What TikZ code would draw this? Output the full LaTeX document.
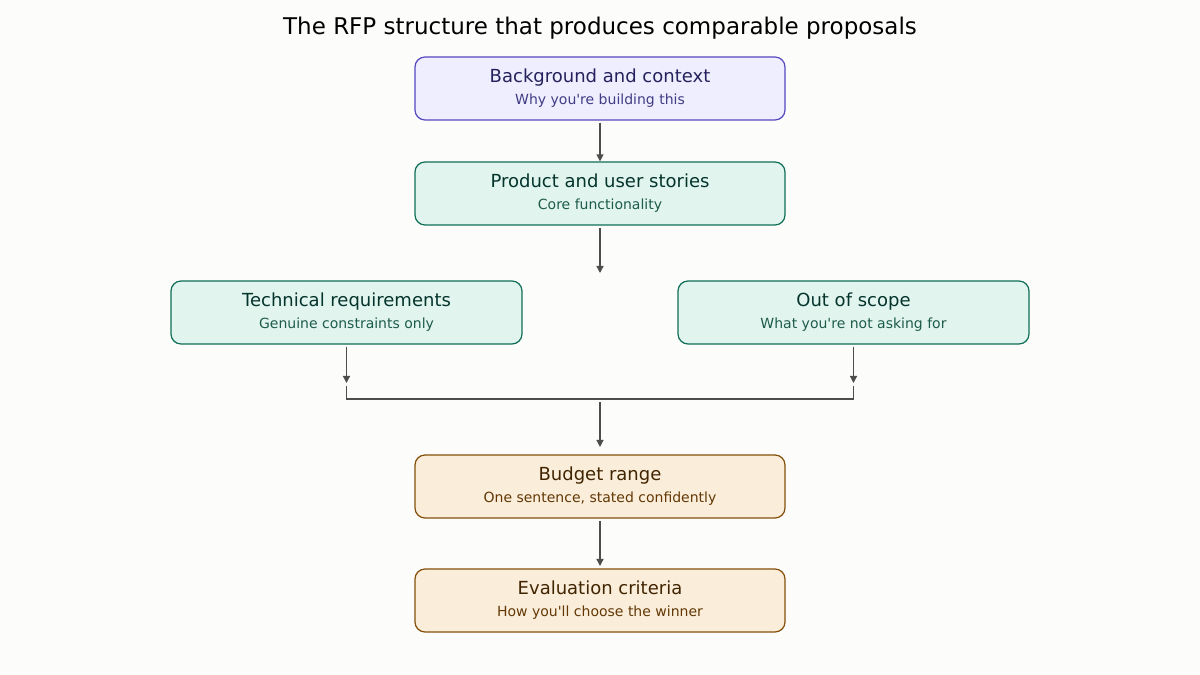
\documentclass[tikz,border=0pt]{standalone}
\usepackage{fontspec}
\setmainfont{DejaVu Sans}
\usetikzlibrary{arrows.meta}
\definecolor{bgc}{HTML}{FCFCFA}
\definecolor{purfill}{HTML}{EEEEFE}
\definecolor{purline}{HTML}{5548C0}
\definecolor{purtext}{HTML}{26215C}
\definecolor{pursub}{HTML}{433C85}
\definecolor{grnfill}{HTML}{E1F5EE}
\definecolor{grnline}{HTML}{0F6E56}
\definecolor{grntext}{HTML}{04342C}
\definecolor{grnsub}{HTML}{1D5B4A}
\definecolor{orafill}{HTML}{FAEEDA}
\definecolor{oraline}{HTML}{854F0B}
\definecolor{oratext}{HTML}{412402}
\definecolor{orasub}{HTML}{633806}
\definecolor{arrc}{HTML}{4D4D4D}
\newcommand{\boxtext}[3]{{\fontsize{18}{22}\selectfont #1}\\{\fontsize{14}{17}\selectfont\color{#3}#2}}
\begin{document}
\begin{tikzpicture}[x=1pt,y=1pt,
  step node/.style={rectangle,rounded corners=10pt,line width=1.2pt,
    minimum width=370pt,minimum height=63pt,align=center,inner sep=0pt,
    font=\fontsize{14}{22}\selectfont},
  purple node/.style={step node,fill=purfill,draw=purline,text=purtext},
  green node/.style={step node,fill=grnfill,draw=grnline,text=grntext,minimum width=351pt},
  orange node/.style={step node,fill=orafill,draw=oraline,text=oratext},
  flow/.style={draw=arrc,line width=1.3pt,-{Triangle[length=7pt,width=7pt]}}]

  \fill[bgc] (0,0) rectangle (1200,675);
  \useasboundingbox (0,0) rectangle (1200,675);

  \node (title) at (600,647) {\fontsize{23}{28}\selectfont The RFP structure that produces comparable proposals};

  \node[purple node] (bg) at (600,586.5) {\boxtext{Background and context}{Why you\textquotesingle re building this}{pursub}};
  \node[green node,minimum width=370pt] (prod) at (600,481.5) {\boxtext{Product and user stories}{Core functionality}{grnsub}};
  \node[green node] (tech) at (346.5,362.5) {\boxtext{Technical requirements}{Genuine constraints only}{grnsub}};
  \node[green node] (scope) at (853.5,362.5) {\boxtext{Out of scope}{What you\textquotesingle re not asking for}{grnsub}};
  \node[orange node] (budget) at (600,188.5) {\boxtext{Budget range}{One sentence, stated confidently}{orasub}};
  \node[orange node] (eval) at (600,74.5) {\boxtext{Evaluation criteria}{How you\textquotesingle ll choose the winner}{orasub}};

  \coordinate (prodend) at (600,402);
  \coordinate (techend) at (346.5,292);
  \coordinate (scopeend) at (853.5,292);
  \coordinate (joinl) at (346.5,289);
  \coordinate (joinr) at (853.5,289);
  \coordinate (joinc) at (600,273);
  \coordinate (budgetend) at (600,228);
  \coordinate (evalend) at (600,109);

  \draw[flow] (bg.south) ++(0,-2) -- (prod.north);
  \draw[flow] (prod.south) ++(0,-2) -- (prodend);
  \draw[flow] (tech.south) ++(0,-2) -- (techend);
  \draw[flow] (scope.south) ++(0,-2) -- (scopeend);
  \draw[draw=arrc,line width=1.3pt] (joinl) |- (600,276) -| (joinr);
  \draw[flow] (joinc) -- (budgetend);
  \draw[flow] (budget.south) ++(0,-2) -- (evalend);
\end{tikzpicture}
\end{document}
